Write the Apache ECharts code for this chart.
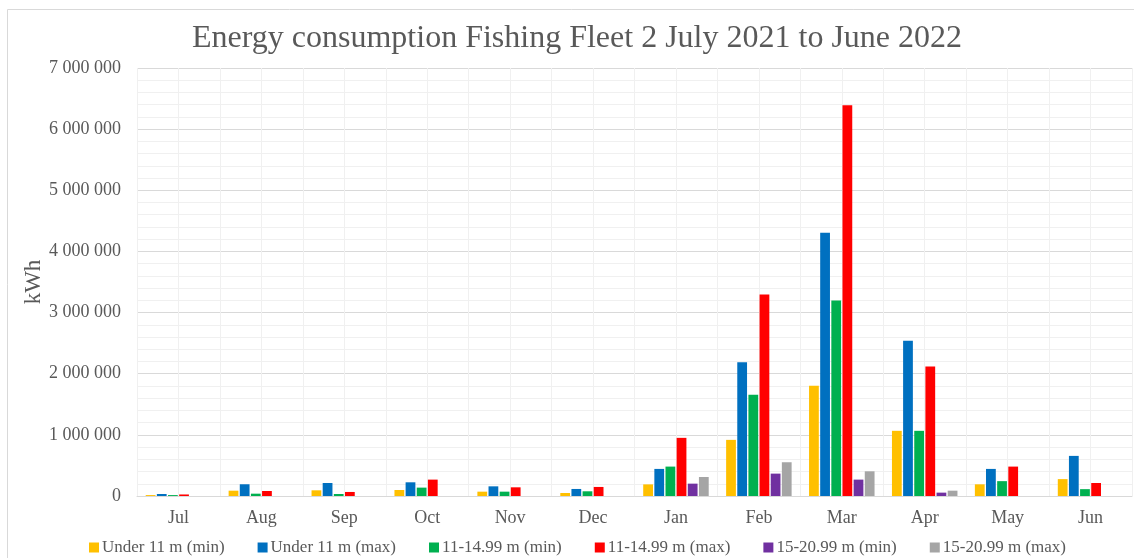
<!DOCTYPE html>
<html>
<head>
<meta charset="utf-8">
<script src="https://cdn.jsdelivr.net/npm/echarts@6/dist/echarts.min.js"></script>
<style>
  html, body { margin: 0; padding: 0; background: #fff; }
  #chart { width: 1134px; height: 558px; }
</style>
</head>
<body>
<div id="chart"></div>
<script>
// months
const months = ['Jul', 'Aug', 'Sep', 'Oct', 'Nov', 'Dec', 'Jan', 'Feb', 'Mar', 'Apr', 'May', 'Jun']
const yTicks = [0, 1000000, 2000000, 3000000, 4000000, 5000000, 6000000, 7000000]

// kWh per fleet segment
const under11Min = [15000, 87000, 93000, 98000, 71000, 49000, 190000, 918000, 1803000, 1066000, 191000, 276000]
const under11Max = [33000, 192000, 213000, 224000, 158000, 115000, 443000, 2186000, 4306000, 2540000, 443000, 656000]
const m11to14Min = [15000, 38000, 33000, 137000, 71000, 77000, 481000, 1656000, 3197000, 1066000, 243000, 112000]
const m11to14Max = [25000, 82000, 66000, 268000, 142000, 148000, 951000, 3295000, 6390000, 2118000, 481000, 213000]
const m15to20Min = [0, 0, 0, 0, 0, 0, 202000, 366000, 268000, 55000, 0, 0]
const m15to20Max = [0, 0, 0, 0, 0, 0, 311000, 552000, 404000, 87000, 0, 0]

const seriesDefs = [
  { name: 'Under 11 m (min)', data: under11Min, color: '#FFC000' },
  { name: 'Under 11 m (max)', data: under11Max, color: '#0070C0' },
  { name: '11-14.99 m (min)', data: m11to14Min, color: '#00B050' },
  { name: '11-14.99 m (max)', data: m11to14Max, color: '#FF0000' },
  { name: '15-20.99 m (min)', data: m15to20Min, color: '#7030A0' },
  { name: '15-20.99 m (max)', data: m15to20Max, color: '#A5A5A5' }
]

const font = '"Liberation Serif", "Times New Roman", serif'
const textColor = '#595959'

const fmt = (v) => String(v).replace(/\B(?=(\d{3})+(?!\d))/g, ' ')

const chart = echarts.init(document.getElementById('chart'))

const option = {
  animation: false,
  textStyle: { fontFamily: font },
  graphic: [{
    type: 'rect',
    shape: { x: 7.5, y: 9.5, width: 1200, height: 600 },
    style: { fill: 'none', stroke: '#d9d9d9', lineWidth: 1 },
    silent: true
  }],
  title: {
    text: 'Energy consumption Fishing Fleet 2 July 2021 to June 2022',
    left: 572,
    top: 18,
    textAlign: 'center',
    textStyle: { fontFamily: font, fontSize: 32, fontWeight: 'normal', color: textColor }
  },
  legend: {
    bottom: -3,
    left: 84,
    itemWidth: 10,
    itemHeight: 10,
    itemGap: 33,
    icon: 'rect',
    textStyle: { fontFamily: font, fontSize: 17, color: textColor, padding: [0, 0, 0, -2] }
  },
  grid: {
    left: 137,
    right: 2,
    top: 68,
    bottom: 62,
    containLabel: false
  },
  xAxis: [{
    type: 'category',
    data: months,
    axisTick: { show: false },
    axisLine: { lineStyle: { color: '#d9d9d9' } },
    axisLabel: { fontFamily: font, fontSize: 18, color: textColor, margin: 13 },
    splitLine: { show: false }
  }, {
    // helper axis for the vertical gridlines at half-category steps
    type: 'value',
    min: 0,
    max: 24,
    interval: 1,
    position: 'bottom',
    axisLine: { show: false },
    axisTick: { show: false },
    axisLabel: { show: false },
    splitLine: { show: true, lineStyle: { color: '#f0f0f0' } }
  }],
  yAxis: {
    type: 'value',
    min: yTicks[0],
    max: yTicks[yTicks.length - 1],
    interval: 1000000,
    name: 'kWh',
    nameLocation: 'middle',
    nameGap: 92,
    nameMoveOverlap: false,
    nameTextStyle: { fontFamily: font, fontSize: 23, color: textColor },
    axisLine: { show: false },
    axisTick: { show: false },
    axisLabel: { fontFamily: font, fontSize: 18, color: textColor, margin: 16, formatter: fmt },
    splitLine: { lineStyle: { color: '#d9d9d9' } },
    minorTick: { show: false, splitNumber: 5 },
    minorSplitLine: { show: true, lineStyle: { color: '#f0f0f0' } }
  },
  series: seriesDefs.map(s => ({
    name: s.name,
    type: 'bar',
    xAxisIndex: 0,
    data: s.data,
    barGap: '14%',
    barCategoryGap: '21%',
    itemStyle: { color: s.color }
  }))
}

chart.setOption(option)
</script>
</body>
</html>
